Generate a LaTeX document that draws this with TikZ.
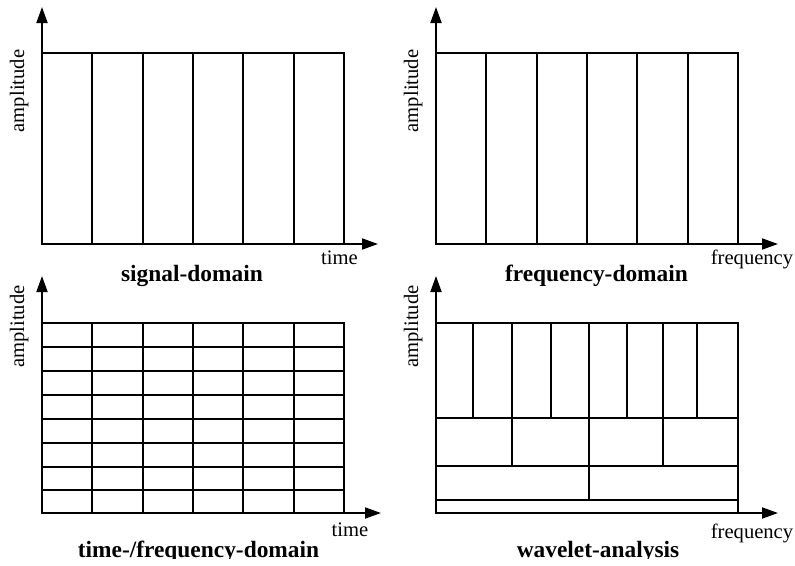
\documentclass[tikz,border=0pt]{standalone}
\usepackage{fontspec}
\setmainfont{Liberation Serif}
\usetikzlibrary{arrows.meta}
\begin{document}
\begin{tikzpicture}[x=1pt,y=-1pt,
  cell/.style={line width=1.8pt, line join=miter},
  axis/.style={line width=1.8pt, -{Triangle[length=16pt,width=11pt]}},
  axlabel/.style={font=\fontsize{20.6}{24}\selectfont, inner sep=0pt, anchor=base},
  title/.style={font=\fontsize{23.4}{28}\selectfont\bfseries, inner sep=0pt, anchor=base}]
\useasboundingbox (0,0) rectangle (795,565);
\clip (0,0) rectangle (795,558);

% ---------- signal-domain ----------
\coordinate (o1) at (42,244);
\coordinate (y1) at (42,7);
\coordinate (x1) at (378,244);
\draw[axis] (o1) -- (y1);
\draw[axis] (o1) -- (x1);
\draw[cell] (42,53) rectangle (344,244);
\foreach \x in {92,143,193,243,294} \draw[cell] (\x,53) -- (\x,244);
\node[axlabel, rotate=90] (a1) at (24,91) {amplitude};
\node[axlabel] (t1) at (339.5,264) {time};
\node[title] (n1) at (192,281) {signal-domain};

% ---------- frequency-domain ----------
\coordinate (o2) at (436,244);
\coordinate (y2) at (436,7);
\coordinate (x2) at (778,244);
\draw[axis] (o2) -- (y2);
\draw[axis] (o2) -- (x2);
\draw[cell] (436,53) rectangle (738,244);
\foreach \x in {486,537,587,637,688} \draw[cell] (\x,53) -- (\x,244);
\node[axlabel, rotate=90] (a2) at (418,91) {amplitude};
\node[axlabel] (f2) at (752,264) {frequency};
\node[title] (n2) at (596.5,281) {frequency-domain};

% ---------- time-/frequency-domain ----------
\coordinate (o3) at (42,513);
\coordinate (y3) at (42,276);
\coordinate (x3) at (381,513);
\draw[axis] (o3) -- (y3);
\draw[axis] (o3) -- (x3);
\draw[cell] (42,323) rectangle (344,513);
\foreach \x in {92,143,193,243,294} \draw[cell] (\x,323) -- (\x,513);
\foreach \y in {347,371,395,419,443,467,490} \draw[cell] (42,\y) -- (344,\y);
\node[axlabel, rotate=90] (a3) at (24,326.5) {amplitude};
\node[axlabel] (t3) at (350,536) {time};
\node[title] (n3) at (198.5,557) {time-/frequency-domain};

% ---------- wavelet-analysis ----------
\coordinate (o4) at (436,513);
\coordinate (y4) at (436,276);
\coordinate (x4) at (778,513);
\draw[axis] (o4) -- (y4);
\draw[axis] (o4) -- (x4);
\draw[cell] (436,323) rectangle (738,513);
\draw[cell] (436,418) -- (738,418);
\draw[cell] (436,466) -- (738,466);
\draw[cell] (436,500) -- (738,500);
\foreach \x in {473,512,551,589,627,663,697} \draw[cell] (\x,323) -- (\x,418);
\foreach \x in {512,589,663} \draw[cell] (\x,418) -- (\x,466);
\draw[cell] (589,466) -- (589,500);
\node[axlabel, rotate=90] (a4) at (418,326.5) {amplitude};
\node[axlabel] (f4) at (752,538) {frequency};
\node[title] (n4) at (598,557) {wavelet-analysis};
\end{tikzpicture}
\end{document}
